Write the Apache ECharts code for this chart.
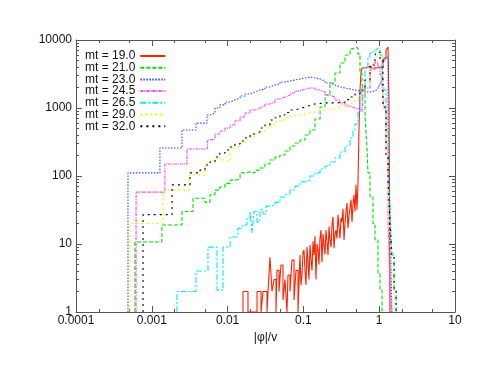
<!DOCTYPE html>
<html>
<head>
<meta charset="utf-8">
<script src="https://cdn.jsdelivr.net/npm/echarts@6/dist/echarts.min.js"></script>
<style>html,body{margin:0;padding:0;background:#fff;}#c{width:483px;height:373px;}</style>
</head>
<body>
<div id="c"></div>
<script>
const seriesNames = ['mt = 19.0','mt = 21.0','mt = 23.0','mt = 24.5','mt = 26.5','mt = 29.0','mt = 32.0'];
const xTickLabels = ['0.0001','0.001','0.01','0.1','1','10'];
const yTickLabels = ['1','10','100','1000','10000'];
const xMinorTicks = [0.0002,0.0005,0.002,0.005,0.02,0.05,0.2,0.5,2,5];
const yMinorTicks = [2,3,4,5,6,7,8,9,20,30,40,50,60,70,80,90,200,300,400,500,600,700,800,900,2000,3000,4000,5000,6000,7000,8000,9000];

// [|phi|/v bin start, count]
const mt190 = [[0.01596,1],[0.01596,2],[0.01858,1],[0.02443,2],[0.02759,1],[0.02931,2],[0.03311,1],[0.03413,2],[0.03626,6.4],[0.03853,2],[0.04093,3],[0.0435,1],[0.04484,4.1],[0.04765,2],[0.05062,4.9],[0.05381,1.5],[0.05717,3],[0.06074,1],[0.06262,3.5],[0.06655,2],[0.07071,5.8],[0.07516,1.5],[0.07985,4.1],[0.08486,1],
  [0.09016,6.9],[0.09295,2.5],[0.09583,3.5],[0.09879,7.5],[0.1018,8.2],[0.105,4],[0.1082,2.5],[0.1115,9],[0.115,5.4],[0.1186,3],[0.1222,9.7],[0.126,6],[0.1299,4.1],[0.1339,11],[0.138,6.9],[0.1423,13],[0.1466,3],[0.1512,10],[0.1558,8.2],[0.1606,5],[0.1656,12.2],[0.1707,16],[0.1759,5.4],[0.1814,14],[0.187,9.7],[0.1928,7],[0.1987,16],[0.2048,11],[0.2111,6.9],[0.2177,18],[0.2244,11.5],[0.2313,9],[0.2384,19],[0.2458,25],[0.2534,8.7],[0.2612,14],[0.2692,16],[0.2775,12],[0.2861,27],[0.2949,18],[0.304,12.2],[0.3134,24],[0.323,21],[0.333,33],[0.3433,11.5],[0.3539,20],[0.3648,30],[0.3761,40],[0.3876,17],[0.3996,26],[0.4119,34],[0.4246,45],[0.4377,21],[0.4512,38],[0.465,53],[0.4794,30],[0.4942,74],[0.5094,32],[0.5251,79],
  [0.5413,475],[0.558,1840],[0.5752,3270],[0.593,3870],[0.6497,4010],[0.7116,4150],[0.7795,3870],[0.8539,3870],[0.9354,4010],[1.0246,3870],[1.0889,4150],[1.1568,5430],[1.2294,7120],[1.3063,7890],[1.3466,1310],[1.388,1]];
const mt210 = [[0.0006,1],[0.0006,10.7],[0.00136,19],[0.0025,30],[0.0035,47],[0.00503,41],[0.00586,53],[0.00682,62],[0.0079,69],[0.00924,78],[0.0108,87],[0.0125,90],[0.0146,111],[0.017,115],[0.0198,111],[0.023,122],[0.0267,131],[0.0311,150],[0.0362,172],[0.0422,190],[0.0491,204],[0.0572,233],[0.0666,276],[0.0775,306],[0.0902,338],[0.105,401],[0.122,475],[0.142,689],[0.166,1035],[0.193,1550],[0.224,2330],[0.261,3270],[0.304,4590],[0.354,6010],[0.412,7400],[0.451,7900],[0.494,7600],[0.525,6200],[0.558,3270],[0.593,2330],[0.611,1840],[0.65,738],[0.69,267],[0.711,111],[0.756,49],[0.828,20],[0.88,11.5],[0.964,3.7],[1.025,2.1],[1.09,1]];
const mt230 = [[0.000485,1],[0.000485,111],[0.00128,258],[0.0025,475],[0.00383,600],[0.00535,790],[0.00586,844],[0.00682,1000],[0.0079,1110],[0.00924,1225],[0.0108,1310],[0.0125,1400],[0.0146,1500],[0.017,1610],[0.0198,1720],[0.023,1840],[0.0267,1900],[0.0311,2040],[0.0362,2180],[0.0422,2250],[0.0491,2410],[0.0572,2500],[0.0666,2580],[0.0775,2670],[0.0902,2760],[0.105,2860],[0.122,2760],[0.142,2670],[0.166,2500],[0.193,2330],[0.224,2180],[0.261,2040],[0.304,1970],[0.354,1900],[0.412,1840],[0.48,1780],[0.558,1720],[0.65,1720],[0.756,1780],[0.88,1900],[0.964,2110],[1.025,2410],[1.09,3380],[1.156,5080],[1.23,5620],[1.31,666],[1.35,150],[1.39,30],[1.43,5],[1.47,1]];
const mt245 = [[0.00062,1],[0.00062,58],[0.00149,150],[0.00291,250],[0.0054,338],[0.00586,350],[0.00682,415],[0.0079,459],[0.00924,508],[0.0108,562],[0.0125,644],[0.0146,738],[0.017,844],[0.0198,935],[0.023,1000],[0.0267,1070],[0.0311,1145],[0.0362,1225],[0.0422,1356],[0.0491,1450],[0.0572,1550],[0.0666,1660],[0.0775,1780],[0.0902,1900],[0.105,1970],[0.122,1970],[0.142,1840],[0.166,1720],[0.193,1550],[0.224,1450],[0.261,1310],[0.304,1190],[0.354,1070],[0.412,1000],[0.48,967],[0.558,935],[0.593,873],[0.611,1550],[0.65,1970],[0.756,3620],[0.88,4750],[0.964,4010],[1.025,3060],[1.09,2180],[1.156,1000],[1.23,241],[1.31,23],[1.39,2.1],[1.47,1]];
const mt265 = [[0.00215,1],[0.00215,2],[0.00383,4],[0.00551,9],[0.00725,2.1],[0.0087,9],[0.0108,12.7],[0.0121,12.7],[0.0137,17],[0.0155,19],[0.018,23],[0.0198,30],[0.021,14.5],[0.0223,30],[0.0244,21],[0.0267,32],[0.0293,27.6],[0.0321,36],[0.0362,37],[0.0422,41],[0.0491,49],[0.0572,54],[0.0666,62],[0.0775,71],[0.0902,82],[0.105,87],[0.122,100],[0.142,111],[0.166,127],[0.193,140],[0.224,161],[0.261,184],[0.304,225],[0.354,276],[0.412,362],[0.451,475],[0.48,582],[0.525,873],[0.558,1310],[0.593,1970],[0.65,3870],[0.711,5620],[0.756,6440],[0.828,7120],[0.908,7120],[0.964,7620],[1.025,6010],[1.09,3620],[1.156,1840],[1.23,475],[1.31,103],[1.39,32],[1.47,6.9],[1.57,2.1],[1.67,1]];
const mt290 = [[0.000516,1],[0.000516,20],[0.00141,62],[0.0031,103],[0.00503,155],[0.00586,172],[0.00682,190],[0.0079,172],[0.00924,161],[0.0108,258],[0.0125,276],[0.0146,306],[0.017,338],[0.0198,375],[0.023,415],[0.0267,444],[0.0311,508],[0.0362,562],[0.0422,622],[0.0491,666],[0.0572,713],[0.0666,763],[0.0775,789],[0.0902,816],[0.105,844],[0.122,873],[0.142,903],[0.166,935],[0.193,967],[0.224,1000],[0.261,1035],[0.304,1110],[0.354,1145],[0.412,1225],[0.48,1356],[0.558,1550],[0.65,2180],[0.756,3380],[0.828,5080],[0.908,6660],[0.964,7620],[1.025,6660],[1.09,5080],[1.156,1310],[1.23,241],[1.31,62],[1.39,11.5],[1.47,3],[1.57,1]];
const mt320 = [[0.000766,1],[0.000766,27],[0.00185,74],[0.00319,111],[0.00432,122],[0.00503,145],[0.00586,161],[0.00682,190],[0.0079,218],[0.00924,241],[0.0108,267],[0.0125,296],[0.0146,327],[0.017,362],[0.0198,415],[0.023,444],[0.0267,508],[0.0311,560],[0.0362,666],[0.0422,720],[0.0491,789],[0.0572,860],[0.0666,935],[0.0775,980],[0.0902,1035],[0.105,1090],[0.122,1145],[0.142,1170],[0.166,1190],[0.193,1190],[0.224,1190],[0.261,1200],[0.304,1225],[0.354,1330],[0.412,1450],[0.48,1620],[0.558,1840],[0.65,2580],[0.756,4290],[0.88,6010],[0.935,6660],[1.025,5080],[1.12,1035],[1.23,190],[1.31,87],[1.39,20],[1.47,6.4],[1.57,2.1],[1.67,1]];

const seriesData = [mt190, mt210, mt230, mt245, mt265, mt290, mt320];
const colors = ['#ff2200','#00e000','#2848ff','#ff40ff','#00e8ff','#f2f200','#000000'];
const dashes = ['solid',[4,2],[1.5,1.5],[3,1,1,1],[6,2,2,2],[2,3],[2,4]];
const widths = [1.1,1.1,1.1,1.1,1.1,1.1,1.1];

const chart = echarts.init(document.getElementById('c'), null, {renderer:'canvas'});
const font = 'Liberation Sans, Arial, Helvetica, sans-serif';
const axisColor = '#555';

function xAx(pos, minor, labels) {
  return {
    type:'log', logBase:10, min:0.0001, max:10, position:pos, gridIndex:0,
    splitLine:{show:false},
    axisLine:{show:!minor, lineStyle:{color:axisColor, width:1}},
    axisTick:minor ? {show:true, inside:true, length:3, lineStyle:{color:axisColor}, customValues:xMinorTicks}
                   : {show:true, inside:true, length:6, lineStyle:{color:axisColor}},
    axisLabel:{show:labels, color:'#111', fontFamily:font, fontSize:12, margin:3,
      formatter:function(v){ return xTickLabels[Math.round(Math.log10(v))+4]; }},
    name: labels ? '|φ|/v' : '', nameLocation:'middle', nameGap:10,
    nameTextStyle:{color:'#111', fontFamily:font, fontSize:12}
  };
}
function yAx(pos, minor, labels) {
  return {
    type:'log', logBase:10, min:1, max:10000, position:pos, gridIndex:0,
    splitLine:{show:false},
    axisLine:{show:!minor, lineStyle:{color:axisColor, width:1}},
    axisTick:minor ? {show:true, inside:true, length:3, lineStyle:{color:axisColor}, customValues:yMinorTicks}
                   : {show:true, inside:true, length:6, lineStyle:{color:axisColor}},
    axisLabel:{show:labels, color:'#111', fontFamily:font, fontSize:12, margin:4,
      formatter:function(v){ return yTickLabels[Math.round(Math.log10(v))]; }}
  };
}

const option = {
  animation:false,
  backgroundColor:'#fff',
  grid:{left:76, right:28, top:40, bottom:61, containLabel:false},
  legend:{
    show:true, orient:'vertical', left:80, top:45, align:'right',
    itemWidth:25, itemHeight:8, itemGap:-0.3,
    itemStyle:{color:'rgba(0,0,0,0)', borderColor:'rgba(0,0,0,0)', borderWidth:0},
    textStyle:{fontFamily:font, fontSize:12, lineHeight:11.5, color:'#111'},
    data:seriesNames
  },
  xAxis:[xAx('bottom',false,true), xAx('bottom',true,false), xAx('top',false,false), xAx('top',true,false)],
  yAxis:[yAx('left',false,true), yAx('left',true,false), yAx('right',false,false), yAx('right',true,false)],
  series: seriesData.map(function(d,i){
    return {
      name:seriesNames[i], type:'line', step:'end', data:d,
      xAxisIndex:0, yAxisIndex:0,
      symbol:'none', showSymbol:false, clip:true,
      lineStyle:{color:colors[i], width:widths[i], type:dashes[i]},
      itemStyle:{color:colors[i]},
      z: 2 + i
    };
  })
};
chart.setOption(option);
</script>
</body>
</html>
